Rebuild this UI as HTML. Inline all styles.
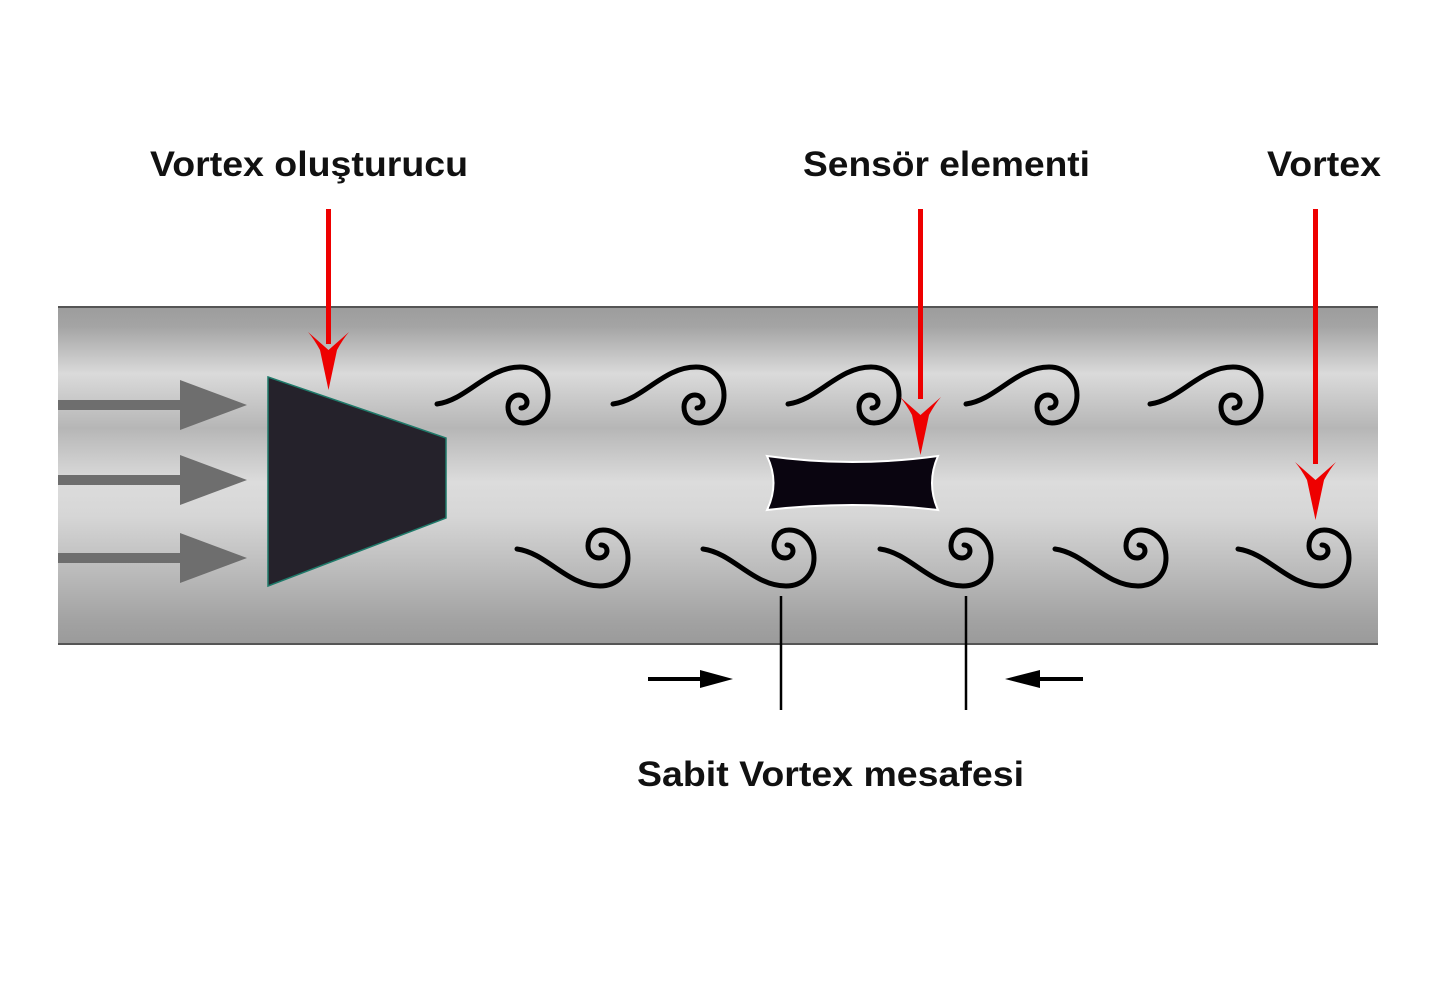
<!DOCTYPE html>
<html><head><meta charset="utf-8"><style>html,body{margin:0;padding:0;background:#fff}svg{display:block}</style></head>
<body>
<svg width="1440" height="1008" viewBox="0 0 1440 1008" xmlns="http://www.w3.org/2000/svg">
<defs>
<linearGradient id="pg" x1="0" y1="306" x2="0" y2="645" gradientUnits="userSpaceOnUse">
<stop offset="0" stop-color="#9c9c9c"/>
<stop offset="0.06" stop-color="#a4a4a4"/>
<stop offset="0.2" stop-color="#dadada"/>
<stop offset="0.36" stop-color="#b6b6b6"/>
<stop offset="0.52" stop-color="#dcdcdc"/>
<stop offset="0.62" stop-color="#d6d6d6"/>
<stop offset="0.8" stop-color="#b8b8b8"/>
<stop offset="0.93" stop-color="#a2a2a2"/>
<stop offset="1" stop-color="#9a9a9a"/>
</linearGradient>
<path id="sw" d="M0,0 C30,-4 50,-37 83,-37 C100,-37 111,-25 111,-9 C111,8 99,19 86,19 C76,19 71,11 71,3 C71,-4 76,-9 82,-9 C87,-9 90,-5 90,-2 C90,2 87,4 84,4" fill="none" stroke="#000" stroke-width="5" stroke-linecap="round"/>
</defs>
<rect x="58" y="306" width="1320" height="339" fill="url(#pg)"/>
<line x1="58" y1="307" x2="1378" y2="307" stroke="#555" stroke-width="2"/>
<line x1="58" y1="644" x2="1378" y2="644" stroke="#555" stroke-width="2"/>
<g fill="#6e6e6e">
<rect x="58" y="400" width="124" height="10"/><polygon points="180,380 247,405 180,430"/>
<rect x="58" y="475" width="124" height="10"/><polygon points="180,455 247,480 180,505"/>
<rect x="58" y="553" width="124" height="10"/><polygon points="180,533 247,558 180,583"/>
</g>
<polygon points="268,377 446,438 446,518 268,586" fill="#25222b" stroke="#1f7a6a" stroke-width="1.5"/>
<g>
<use href="#sw" x="437" y="404"/><use href="#sw" x="613" y="404"/><use href="#sw" x="788" y="404"/><use href="#sw" x="966" y="404"/><use href="#sw" x="1150" y="404"/>
</g>
<g transform="translate(0,1094) scale(1,-1)">
<use href="#sw" x="517" y="545"/><use href="#sw" x="703" y="545"/><use href="#sw" x="880" y="545"/><use href="#sw" x="1055" y="545"/><use href="#sw" x="1238" y="545"/>
</g>
<path d="M767,456 Q852,468 938,456 Q926,483 938,510 Q852,500 767,510 Q780,483 767,456 Z" fill="#0a0510" stroke="#fff" stroke-width="2"/>
<g fill="#ee0000">
<rect x="326" y="209" width="5" height="135"/>
<path d="M328.5,390 L320,350 Q314,339 308,332 L328.5,350 L349,332 Q343,339 337,350 Z"/>
<rect x="918" y="209" width="5" height="190"/>
<path d="M920.5,455 L912,415 Q906,404 900,397 L920.5,415 L941,397 Q935,404 929,415 Z"/>
<rect x="1313" y="209" width="5" height="255"/>
<path d="M1315.5,520 L1307,480 Q1301,469 1295,462 L1315.5,480 L1336,462 Q1330,469 1324,480 Z"/>
</g>
<g fill="#000">
<rect x="648" y="677" width="54" height="4"/><polygon points="700,670 733,679 700,688"/>
<rect x="1038" y="677" width="45" height="4"/><polygon points="1040,670 1005,679 1040,688"/>
</g>
<line x1="781" y1="596" x2="781" y2="710" stroke="#000" stroke-width="2.5"/>
<line x1="966" y1="596" x2="966" y2="710" stroke="#000" stroke-width="2.5"/>
<g font-family="Liberation Sans, Arial, sans-serif" font-weight="bold" font-size="35" fill="#111">
<text x="150" y="176" textLength="318" lengthAdjust="spacingAndGlyphs">Vortex oluşturucu</text>
<text x="803" y="176" textLength="287" lengthAdjust="spacingAndGlyphs">Sensör elementi</text>
<text x="1267" y="176" textLength="114" lengthAdjust="spacingAndGlyphs">Vortex</text>
<text x="637" y="786" textLength="387" lengthAdjust="spacingAndGlyphs">Sabit Vortex mesafesi</text>
</g>
</svg>
</body></html>
